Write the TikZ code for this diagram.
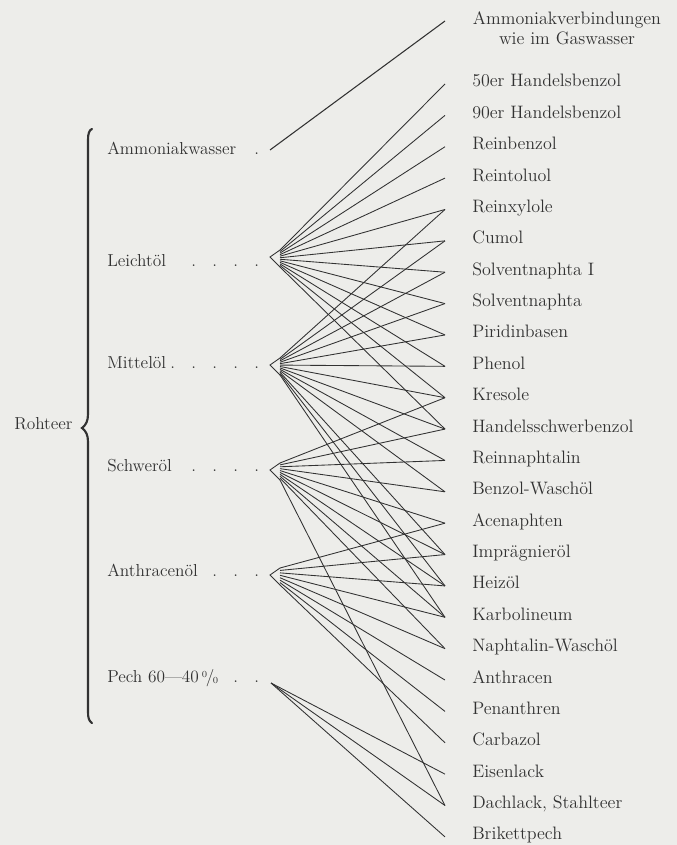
\documentclass[tikz,border=0pt]{standalone}
\usepackage{fontspec}
\usepackage{tikz}
\definecolor{paper}{RGB}{237,237,234}
\definecolor{ink}{RGB}{50,50,50}
\newcommand{\prozent}{\raisebox{0.55ex}{\scriptsize 0}\kern-0.08em/\kern-0.08em\raisebox{-0.25ex}{\scriptsize 0}}

\begin{document}
\begin{tikzpicture}[x=0.75pt, y=-0.75pt,
  lbl/.style={anchor=base west, inner sep=0pt, text=ink, font=\fontsize{13}{15}\selectfont\addfontfeature{LetterSpace=6}},
  prodlbl/.style={lbl, font=\fontsize{13.5}{15.5}\selectfont\addfontfeature{LetterSpace=15}},
  ray/.style={draw=ink, line width=0.65pt},
  brace/.style={draw=ink, line width=1.6pt, line cap=round}]
  \useasboundingbox (0,0) rectangle (677,845);
  \fill[paper] (0,0) rectangle (677,845);
  % Rohteer mit Klammer
  \node[lbl] (roh) at (14,429) {Rohteer};
  \draw[brace] (92,129) .. controls (89,130) and (88,134) .. (88,140) -- (88,414)
    .. controls (88,421) and (86,425) .. (82,428) .. controls (86,431) and (88,435) .. (88,442)
    -- (88,712) .. controls (88,718) and (89,721) .. (92,723);
  % Fraktionen
  \foreach \n/\t/\y/\d in {ammon/Ammoniakwasser/155/1, leicht/Leichtöl/266/4, mittel/Mittelöl/368/5,
      schwer/Schweröl/471/4, anthr/Anthracenöl/576/3, pech/{Pech 60---40\,\prozent}/682/2} {
    \node[lbl] (\n) at (107,\y) {\t};
    \foreach \j in {1,...,\d} \node[lbl] (\n dot\j) at ({254-21*(\j-1)},\y) {.};
  }
  \coordinate (ammonA) at (270,150);
  \coordinate (leichtA) at (270,257);
  \coordinate (mittelA) at (270,365);
  \coordinate (schwerA) at (270,470);
  \coordinate (anthrA) at (270,575);
  \coordinate (pechA) at (271,683);
  % Produkte
  \node[prodlbl, anchor=north, align=center, font=\fontsize{13.5}{15.5}\selectfont\addfontfeature{LetterSpace=13}] (ammonP) at (567,11) {Ammoniakverbindungen\\wie im Gaswasser};
  \coordinate (endA) at (445,21);
  \foreach \t [count=\k from 0] in {50er Handelsbenzol, 90er Handelsbenzol, Reinbenzol, Reintoluol,
      Reinxylole, Cumol, Solventnaphta I, Solventnaphta, Piridinbasen, Phenol, Kresole,
      Handelsschwerbenzol, Reinnaphtalin, Benzol-Waschöl, Acenaphten, Imprägnieröl, Heizöl,
      Karbolineum, Naphtalin-Waschöl, Anthracen, Penanthren, Carbazol, Eisenlack,
      {Dachlack, Stahlteer}, Brikettpech} {
    \node[prodlbl] (prod\k) at (472,{87+31.37*\k}) {\t};
    \coordinate (end\k) at (445,{84+31.37*\k});
  }
  % Verbindungen
  \draw[ray, line width=0.8pt] (ammonA) -- (endA);
  \foreach \s/\m/\ts in {leicht/12/{0,...,11}, mittel/13/{4,...,13,15,16,17},
      schwer/10/{10,...,18,23}, anthr/8/{14,...,21}} {
    \draw[ray] ([shift={(10,-7)}]\s A) -- (\s A) -- ([shift={(10,10)}]\s A);
    \foreach \t [count=\i from 0] in \ts
      \draw[ray] ([shift={(10,{-7+17*\i/(\m-1)})}]\s A) -- (end\t);
  }
  \foreach \t in {22,23,24} \draw[ray] (pechA) -- (end\t);
\end{tikzpicture}
\end{document}
